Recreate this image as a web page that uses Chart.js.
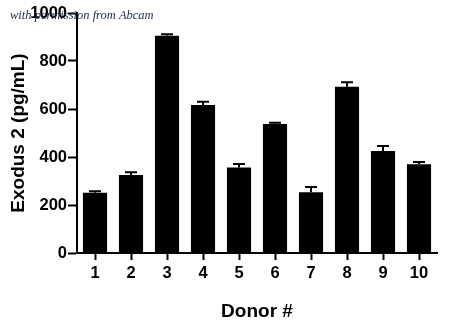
<!DOCTYPE html>
<html>
<head>
<meta charset="utf-8">
<script src="https://cdn.jsdelivr.net/npm/chart.js@4"></script>
<style>
  body { margin: 0; background: #fff; }
  canvas { display: block; }
</style>
</head>
<body>
<canvas id="barChart" width="450" height="327"></canvas>
<script>
const donors = ['1', '2', '3', '4', '5', '6', '7', '8', '9', '10'];
const exodusMeans = [251, 325, 905, 617, 356, 537, 253, 693, 425, 370];
const exodusErrors = [6, 11, 6, 13, 15, 6, 22, 18, 21, 9];
const yTicks = [0, 200, 400, 600, 800, 1000];

// upward error bars with caps, placed through the chart scales
const errorBars = {
    id: 'errorBars',
    afterDatasetsDraw(chart) {
        const ctx = chart.ctx;
        const x = chart.scales.x;
        const y = chart.scales.y;
        ctx.save();
        ctx.strokeStyle = '#000';
        ctx.lineWidth = 2;
        exodusMeans.forEach(function (v, i) {
            const px = x.getPixelForValue(i);
            const top = y.getPixelForValue(v + exodusErrors[i]);
            ctx.beginPath();
            ctx.moveTo(px, y.getPixelForValue(v));
            ctx.lineTo(px, top);
            ctx.moveTo(px - 6, top);
            ctx.lineTo(px + 6, top);
            ctx.stroke();
        });
        ctx.restore();
    }
};

const watermark = {
    id: 'watermark',
    afterDraw(chart) {
        const ctx = chart.ctx;
        ctx.save();
        ctx.font = 'italic 12.5px "Liberation Serif"';
        ctx.fillStyle = '#1c2a4c';
        ctx.textBaseline = 'middle';
        ctx.fillText('with permission from Abcam', 10, 16);
        ctx.restore();
    }
};

const tickFont = { family: '"Liberation Sans", Arial, sans-serif', size: 16.5, weight: 'bold' };
const titleFont = { family: '"Liberation Sans", Arial, sans-serif', size: 19, weight: 'bold' };

new Chart(document.getElementById('barChart').getContext('2d'), {
    type: 'bar',
    data: {
        labels: donors,
        datasets: [{
            label: 'Exodus 2',
            data: exodusMeans,
            backgroundColor: '#000',
            borderWidth: 0,
            barPercentage: 0.67,
            categoryPercentage: 1
        }]
    },
    options: {
        responsive: false,
        devicePixelRatio: 1,
        animation: false,
        layout: {
            padding: { top: 13, right: 13, bottom: 0, left: 0 }
        },
        plugins: {
            legend: { display: false },
            tooltip: { enabled: false }
        },
        scales: {
            x: {
                grid: {
                    offset: false,
                    drawOnChartArea: false,
                    tickLength: 7,
                    tickColor: '#000',
                    tickWidth: 2
                },
                border: { color: '#000', width: 2 },
                ticks: { color: '#000', font: tickFont, padding: 4, maxRotation: 0 },
                title: {
                    display: true,
                    text: 'Donor #',
                    color: '#000',
                    font: titleFont,
                    padding: { top: 13 }
                },
                afterFit(scale) { scale.height = 74; }
            },
            y: {
                min: 0,
                max: 1000,
                afterBuildTicks(scale) {
                    scale.ticks = yTicks.map(function (v) { return { value: v }; });
                },
                grid: {
                    drawOnChartArea: false,
                    tickLength: 9,
                    tickColor: '#000',
                    tickWidth: 2
                },
                border: { color: '#000', width: 2 },
                ticks: {
                    color: '#000',
                    font: tickFont,
                    padding: 1,
                    callback: function (v) { return String(v); }
                },
                title: {
                    display: true,
                    text: 'Exodus 2 (pg/mL)',
                    color: '#000',
                    font: titleFont,
                    padding: { top: 7, bottom: 4 }
                },
                afterFit(scale) { scale.width = 77; }
            }
        }
    },
    plugins: [errorBars, watermark]
});
</script>
</body>
</html>
